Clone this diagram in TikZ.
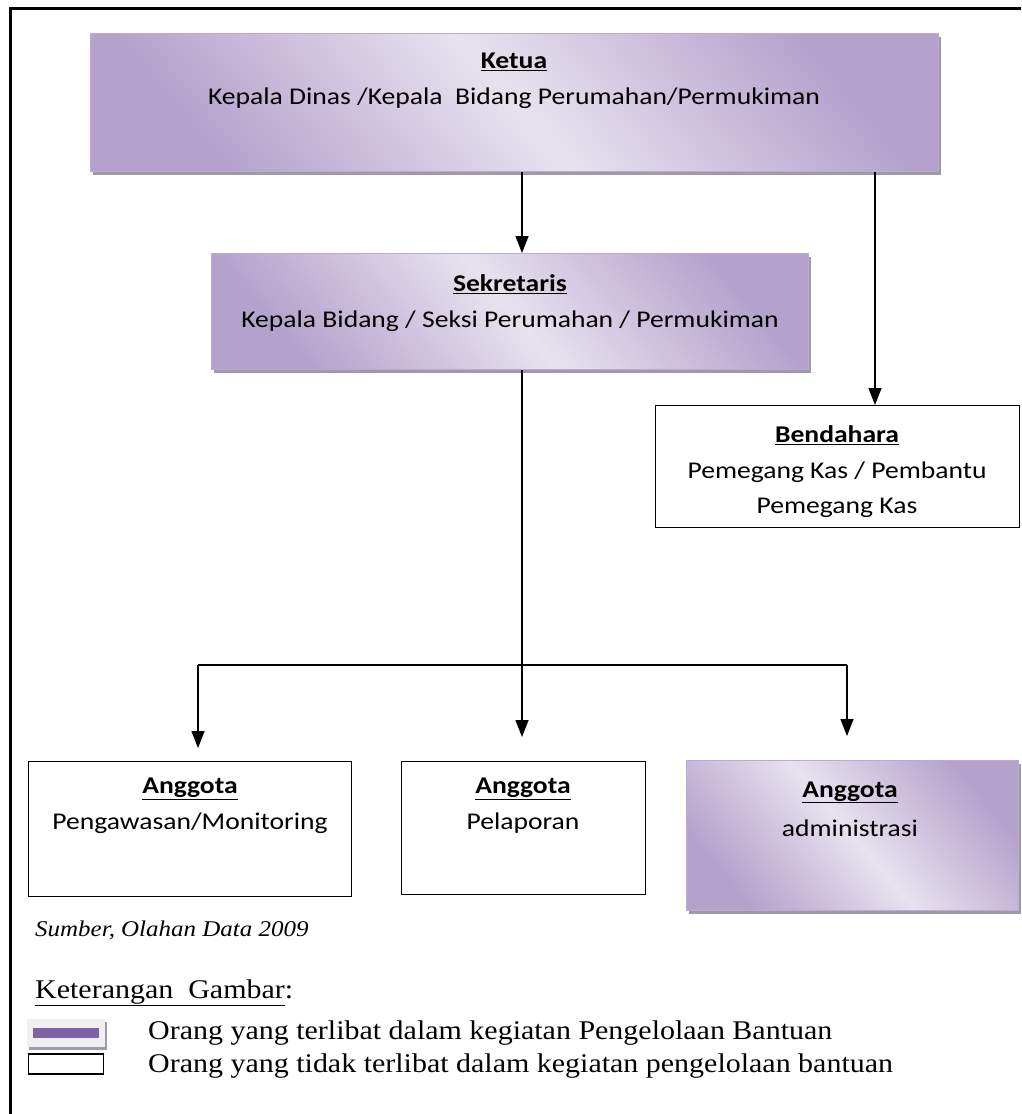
\documentclass[tikz,border=0pt]{standalone}
\usepackage{fontspec}
\setmainfont{Carlito}[FakeStretch=1.15]
\newfontfamily\timesfont{Liberation Serif}[FakeStretch=1.11]
\usetikzlibrary{arrows.meta,shadows}

\definecolor{lavlight}{RGB}{231,226,239}
\definecolor{lavdark}{RGB}{180,162,204}
\definecolor{lavedge}{RGB}{188,170,212}
\definecolor{shadowgray}{RGB}{160,154,168}
\definecolor{legendbar}{RGB}{130,98,166}
\definecolor{legendbg}{RGB}{240,240,240}

\tikzset{
  purplebox/.style={draw=lavedge, line width=1.2pt, top color=lavdark, bottom color=lavdark,
    middle color=lavlight, shading angle=-50,
    general shadow={fill=shadowgray, shadow xshift=2pt, shadow yshift=-3pt},
    inner sep=0pt, anchor=north west},
  plainbox/.style={draw, line width=1.3pt, fill=white, inner sep=0pt, anchor=north west},
  boxtext/.style={align=center, inner sep=0pt, font=\fontsize{24}{36}\selectfont},
  notetext/.style={anchor=west, inner sep=0pt, font=\timesfont\fontsize{27}{33}\selectfont},
  arr/.style={line width=1.4pt, -{Triangle[width=13pt,length=17pt]}},
}

\begin{document}
\begin{tikzpicture}[x=1pt,y=-1pt]
	\useasboundingbox (0,0) rectangle (1021,1114);
	
	% frame
	\draw[line width=3pt] (10,1114) -- (10,8) -- (1021,8);
	
	% boxes
	\node[purplebox, minimum width=848pt, minimum height=138pt] (ketua) at (90,33) {};
	\node[purplebox, minimum width=597pt, minimum height=116pt] (sekretaris) at (211,253) {};
	\node[plainbox, minimum width=364pt, minimum height=122pt] (bendahara) at (655,405) {};
	\node[plainbox, minimum width=323pt, minimum height=135pt] (anggota1) at (28,761) {};
	\node[plainbox, minimum width=244pt, minimum height=133pt] (anggota2) at (401,761) {};
	\node[purplebox, minimum width=332pt, minimum height=150pt] (anggota3) at (686,760) {};
	
	% texts
	\node[boxtext] (ketuatxt) at (514,81) {\underline{\textbf{Ketua}}\\Kepala Dinas /Kepala\ \ Bidang Perumahan/Permukiman};
	\node[boxtext] (sekretaristxt) at (510,303) {\underline{\textbf{Sekretaris}}\\Kepala Bidang / Seksi Perumahan / Permukiman};
	\node[boxtext, font=\fontsize{24}{35.5}\selectfont] (bendaharatxt) at (837,472) {\underline{\textbf{Bendahara}}\\Pemegang Kas / Pembantu\\Pemegang Kas};
	\node[boxtext] (anggota1txt) at (190,806) {\underline{\textbf{Anggota}}\\Pengawasan/Monitoring};
	\node[boxtext] (anggota2txt) at (523,806) {\underline{\textbf{Anggota}}\\Pelaporan};
	\node[boxtext, font=\fontsize{24}{39}\selectfont] (anggota3txt) at (850,809) {\underline{\textbf{Anggota}}\\administrasi};
	
	% connectors
	\coordinate (spine) at (522,665);
	\coordinate (kasline) at (875,0);
	\coordinate (forkL) at (198,665);
	\coordinate (forkR) at (847,665);
	\draw[arr] (ketua.south -| spine) -- (sekretaris.north -| spine);
	\draw[arr] (ketua.south -| kasline) -- (bendahara.north -| kasline);
	\draw[line width=1.4pt] (sekretaris.south -| spine) -- (spine);
	\draw[line width=1.4pt] (forkL) -- (forkR);
	\draw[arr, shorten >=13pt] (forkL) -- (forkL |- anggota1.north);
	\draw[arr, shorten >=24pt] (spine) -- (spine |- anggota2.north);
	\draw[arr, shorten >=24pt] (forkR) -- (forkR |- anggota3.north);
	
	% source and legend
	\node[notetext, font=\timesfont\itshape\fontsize{22.5}{26}\selectfont] (sumber) at (35,930) {Sumber, Olahan Data 2009};
	\node[notetext] (keterangan) at (35,993) {\underline{Keterangan\ \ Gambar}:};
	\node[fill=legendbg, minimum width=78pt, minimum height=28pt, inner sep=0pt,
	  general shadow={fill=shadowgray, shadow xshift=2pt, shadow yshift=-3pt}] (legend1) at (66,1033) {};
	\fill[legendbar] (legend1.center) ++(-33,-5) rectangle ++(66,10);
	\node[draw, line width=1.3pt, fill=white, minimum width=75pt, minimum height=20pt, inner sep=0pt] (legend2) at (66,1064) {};
	\node[notetext] (legend1txt) at (148,1033) {Orang yang terlibat dalam kegiatan Pengelolaan Bantuan};
	\node[notetext] (legend2txt) at (148,1066) {Orang yang tidak terlibat dalam kegiatan pengelolaan bantuan};
\end{tikzpicture}
\end{document}
